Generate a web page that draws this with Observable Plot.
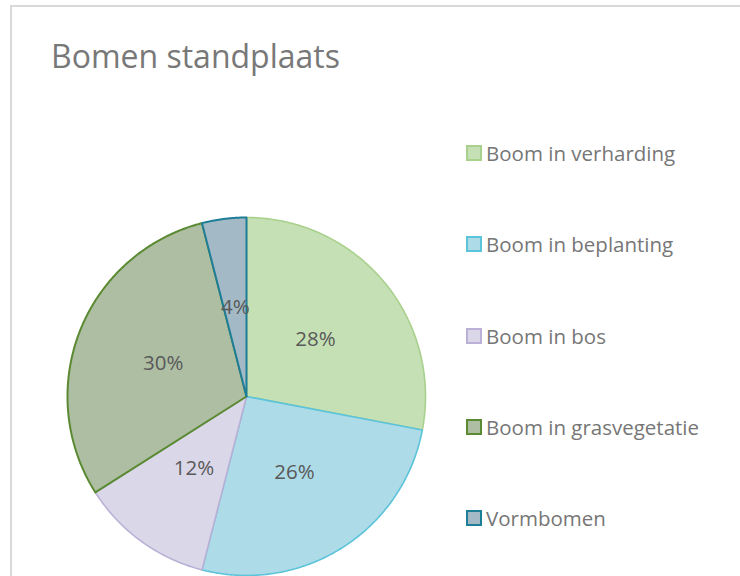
<!DOCTYPE html>
<html>
<head>
<meta charset="utf-8">
<script src="https://cdn.jsdelivr.net/npm/d3@7"></script>
<script src="https://cdn.jsdelivr.net/npm/@observablehq/plot@0.6"></script>
<style>
  html, body { margin: 0; padding: 0; background: #fff; }
  #page { position: relative; width: 740px; height: 576px; overflow: hidden; font-family: "Open Sans", "Noto Sans", sans-serif; }
  #frame { position: absolute; left: 10px; top: 5px; width: 800px; height: 700px; border: 2px solid #D9D9D9; box-sizing: border-box; }
  #title { position: absolute; left: 51px; top: 34px; font-size: 32px; font-weight: 400; color: #787878; white-space: nowrap; line-height: 44px; }
  #chart { position: absolute; left: 0; top: 0; }
  #legend { position: absolute; left: 466px; top: 0; }
  .item { position: absolute; left: 0; display: flex; align-items: center; white-space: nowrap; font-size: 20.5px; color: #767676; height: 30px; }
  .sw { width: 12px; height: 12px; border: 2px solid; margin-right: 4px; }
</style>
</head>
<body>
<div id="page">
  <div id="frame"></div>
  <div id="chart"></div>
  <div id="title">Bomen standplaats</div>
  <div id="legend"></div>
</div>
<script>
const categories = ["Boom in verharding", "Boom in beplanting", "Boom in bos", "Boom in grasvegetatie", "Vormbomen"];
const values = [28, 26, 12, 30, 4];
const labels = ["28%", "26%", "12%", "30%", "4%"];
const fills = ["#C5E0B4", "#ADDBE7", "#DAD7E9", "#AEBEA3", "#A3BAC6"];
const strokes = ["#A9D18E", "#5BC3DA", "#BBB1D6", "#5A8A32", "#1E7D97"];

const arcs = d3.pie().sort(null).value(d => d)(values);

const slices = arcs.map((a, i) => {
  const pts = [{x: 0, y: 0}];
  const n = Math.max(4, Math.ceil((a.endAngle - a.startAngle) / (Math.PI / 360)));
  for (let k = 0; k <= n; k++) {
    const t = a.startAngle + (a.endAngle - a.startAngle) * k / n;
    pts.push({x: Math.sin(t), y: Math.cos(t)});
  }
  pts.push({x: 0, y: 0});
  return pts;
});

const labelData = arcs.map((a, i) => {
  const m = (a.startAngle + a.endAngle) / 2;
  return {x: 0.5 * Math.sin(m), y: 0.5 * Math.cos(m), text: labels[i]};
});

const R = 179, cx = 246, cy = 396;
const marks = slices.map((pts, i) =>
  Plot.line(pts, {x: "x", y: "y", fill: fills[i], stroke: strokes[i], strokeWidth: i >= 3 ? 2 : 1.6, strokeLinejoin: "round"})
);
marks.push(Plot.text(labelData, {x: "x", y: "y", text: "text", fontSize: 20.5, fill: "#595959"}));

const chart = Plot.plot({
  width: 740,
  height: 576,
  margin: 0,
  x: {domain: [-1, 1], range: [cx - R, cx + R], axis: null},
  y: {domain: [-1, 1], range: [cy + R, cy - R], axis: null},
  style: {background: "transparent", fontFamily: "'Open Sans', 'Noto Sans', sans-serif"},
  marks
});
document.getElementById("chart").appendChild(chart);

const legend = document.getElementById("legend");
const ys = [153, 244, 336, 427, 518];
categories.forEach((c, i) => {
  const it = document.createElement("div");
  it.className = "item";
  it.style.top = (ys[i] - 15) + "px";
  const sw = document.createElement("span");
  sw.className = "sw";
  sw.style.background = fills[i];
  sw.style.borderColor = strokes[i];
  it.appendChild(sw);
  it.appendChild(document.createTextNode(c));
  legend.appendChild(it);
});
</script>
</body>
</html>
